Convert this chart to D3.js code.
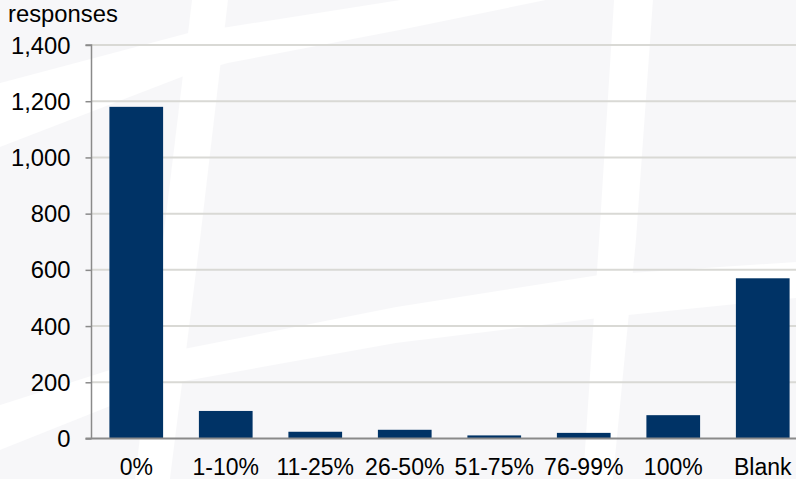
<!DOCTYPE html>
<html>
<head>
<meta charset="utf-8">
<script src="https://cdn.jsdelivr.net/npm/d3@7"></script>
<style>
  html, body { margin: 0; padding: 0; background: #f7f7f9; }
  svg { display: block; }
  text { font-family: "Liberation Sans", Arial, sans-serif; fill: #000; }
</style>
</head>
<body>
<svg id="chart" width="796" height="479"></svg>
<script>
// Survey answer buckets and the number of responses in each
const categories = ["0%", "1-10%", "11-25%", "26-50%", "51-75%", "76-99%", "100%", "Blank"];
const responses = [1180, 98, 24, 31, 11, 20, 83, 570];
const yTicks = [0, 200, 400, 600, 800, 1000, 1200, 1400];
const yLabel = "responses";

const W = 796, H = 479;
const margin = { left: 91.5, top: 45, bottom: 40.5 };
const plotRight = 807.5;          // plot runs past the visible edge
const barColor = "#003366";
const yFontSize = "23.8px";
const xFontSize = "23px";

const svg = d3.select("#chart");

// faint background watermark strips
const bg = svg.append("g").attr("fill", "#ffffff").attr("fill-opacity", 0.9);
const strips = [
  [[192, 0], [228, 0], [200, 240], [170, 479], [135, 479], [163, 240]],
  [[614, 0], [653, 0], [636, 240], [613, 479], [583, 479], [599, 240]],
  [[0, 83], [192, 32], [228, 27], [400, 0], [546, 0], [400, 30], [228, 63], [192, 73], [0, 147]],
  [[0, 405], [163, 353], [396, 307], [599, 275], [796, 262], [796, 298], [599, 318], [396, 343], [163, 385], [0, 450]]
];
bg.selectAll("path").data(strips).join("path")
  .attr("d", d => d3.line().curve(d3.curveLinearClosed)(d));

const x = d3.scaleBand()
  .domain(categories)
  .range([margin.left, plotRight])
  .paddingInner(0.4)
  .paddingOuter(0.2);

const y = d3.scaleLinear()
  .domain([0, 1400])
  .range([H - margin.bottom, margin.top]);

// horizontal gridlines
svg.append("g").selectAll("line").data(yTicks.filter(t => t > 0)).join("line")
  .attr("x1", margin.left).attr("x2", W)
  .attr("y1", d => y(d)).attr("y2", d => y(d))
  .attr("stroke", "#d9d9d5").attr("stroke-width", 2);

// bars
svg.append("g").selectAll("rect").data(categories).join("rect")
  .attr("x", d => x(d))
  .attr("width", x.bandwidth())
  .attr("y", (d, i) => y(responses[i]))
  .attr("height", (d, i) => y(0) - y(responses[i]))
  .attr("fill", barColor);

// y axis
const yAxis = svg.append("g")
  .attr("transform", `translate(${margin.left},0)`)
  .call(d3.axisLeft(y).tickValues(yTicks).tickFormat(d3.format(",")).tickSize(6).tickPadding(15));
yAxis.select(".domain").attr("stroke", "#8a8a8a").attr("stroke-width", 1.5).attr("d", `M-6,${y(1400)}H0V${y(0)}`);
yAxis.selectAll(".tick line").attr("stroke", "#8a8a8a").attr("stroke-width", 1.5);
yAxis.selectAll(".tick text")
  .style("font-family", "'Liberation Sans', Arial, sans-serif")
  .style("font-size", yFontSize).attr("fill", "#000").attr("dy", "0.34em");

// baseline
svg.append("line")
  .attr("x1", margin.left - 6).attr("x2", W)
  .attr("y1", y(0)).attr("y2", y(0))
  .attr("stroke", "#8a8a8a").attr("stroke-width", 2);

// category labels
const xAxis = svg.append("g")
  .attr("transform", `translate(0,${y(0)})`)
  .call(d3.axisBottom(x).tickSize(0).tickPadding(20));
xAxis.select(".domain").remove();
xAxis.selectAll(".tick text")
  .style("font-family", "'Liberation Sans', Arial, sans-serif")
  .style("font-size", xFontSize).attr("fill", "#000");

// axis title
svg.append("text")
  .attr("x", 8).attr("y", 22)
  .style("font-size", yFontSize)
  .text(yLabel);
</script>
</body>
</html>
